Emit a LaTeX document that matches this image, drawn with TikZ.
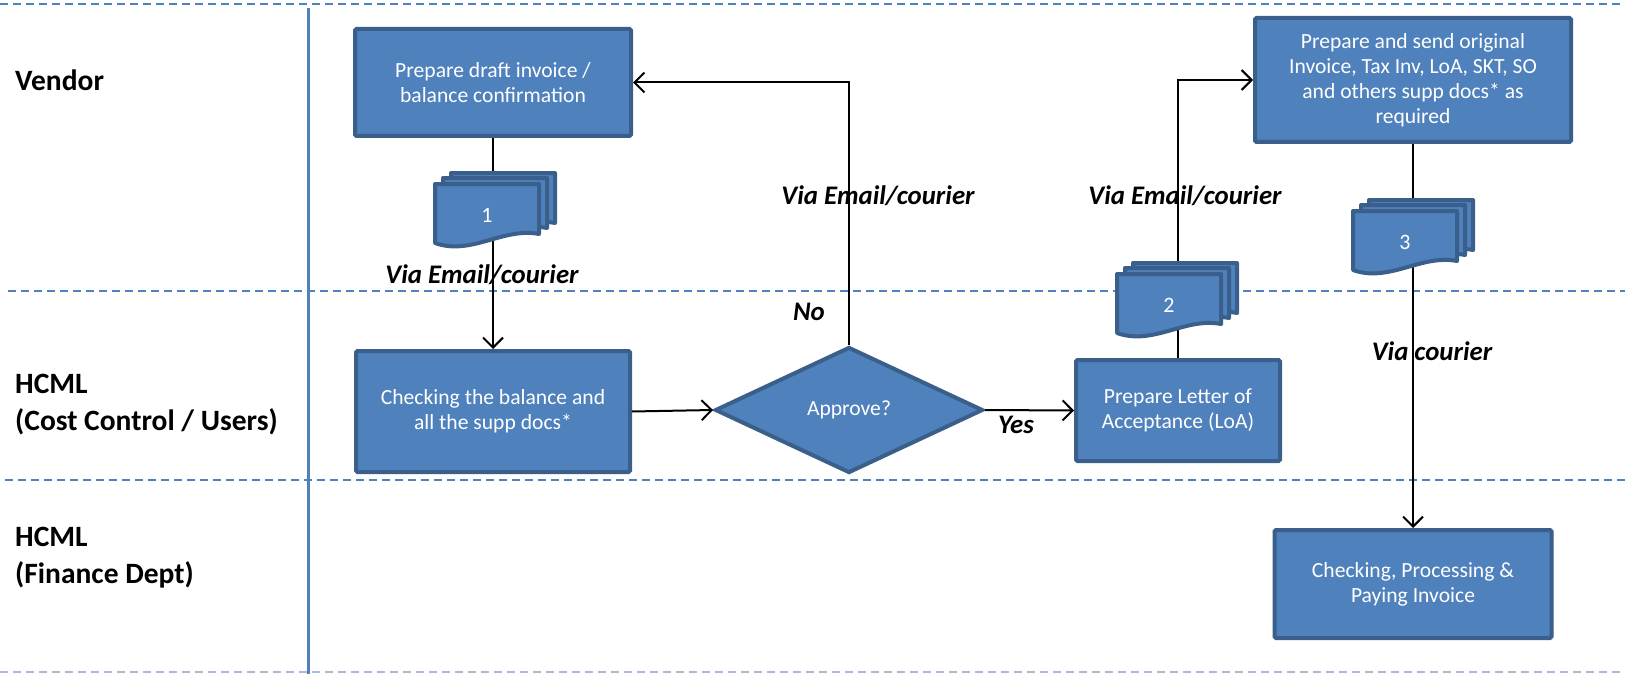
\documentclass[tikz,border=0pt]{standalone}
\usepackage{fontspec}
\setmainfont{Carlito}
\usetikzlibrary{arrows.meta,shapes.geometric,calc}
\definecolor{boxfill}{HTML}{4F81BD}
\definecolor{boxline}{HTML}{3A5F8B}
\definecolor{lanecol}{HTML}{4F81BD}
\definecolor{lanelight}{HTML}{A8BAD6}
\tikzset{
  procbox/.style={draw=boxline, fill=boxfill, line width=4pt, rounded corners=1.5pt,
    text=white, font=\fontsize{21.6}{25}\selectfont, align=center, inner sep=0pt},
  decision/.style={diamond, draw=boxline, fill=boxfill, line width=4pt, text=white,
    font=\fontsize{21.6}{25}\selectfont, inner sep=0pt, minimum width=268pt, minimum height=126pt},
  docsheet/.style={draw=boxline, fill=boxfill, line width=4pt, line join=round},
  doclabel/.style={text=white, font=\fontsize{22}{25}\selectfont, inner sep=0pt},
  flow/.style={draw=black, line width=2pt, -{Straight Barb[length=10pt,width=20pt,line width=2pt]}},
  via/.style={font=\fontsize{26.8}{30}\selectfont\bfseries\itshape, text=black, inner sep=0pt},
  lanelabel/.style={font=\fontsize{29.5}{37}\selectfont\bfseries, align=left, anchor=west, inner sep=0pt},
  laneline/.style={draw=lanecol, line width=1.5pt, dash pattern=on 8pt off 5pt},
}
\newcommand\DocStack[4]{%
  \foreach \dx/\dy in {16/-11, 8/-6, 0/0} {%
    \draw[docsheet] (#2+\dx,#3+\dy) -- (#2+\dx+104,#3+\dy) -- (#2+\dx+104,#3+\dy+50)
      .. controls (#2+\dx+68,#3+\dy+43) and (#2+\dx+36,#3+\dy+72) .. (#2+\dx,#3+\dy+59) -- cycle;
  }%
  \node[doclabel] (#1) at (#2+52,#3+31) {#4};
}
\begin{document}
\begin{tikzpicture}[x=1pt,y=-1pt]
\useasboundingbox (0,0) rectangle (1625,674);
% lanes
\draw[laneline] (0,4) -- (1625,4);
\draw[laneline] (8,291) -- (1625,291);
\draw[laneline] (5,480) -- (1625,480);
\draw[laneline, draw=lanelight] (0,672) -- (1625,672);
\draw[draw=lanecol, line width=3pt] (308,8) -- (308,674);
\node[lanelabel] (l1) at (15,80) {Vendor};
\node[lanelabel] (l2) at (15,404.5) {HCML\\(Cost Control / Users)};
\node[lanelabel] (l3) at (15,558) {HCML\\(Finance Dept)};
% boxes
\node[procbox, minimum width=276pt, minimum height=107pt] (b1) at (493,82.5)
  {Prepare draft invoice /\\balance confirmation};
\node[procbox, minimum width=274pt, minimum height=121pt] (b2) at (493,411.5)
  {Checking the balance and\\all the supp docs*};
\node[decision] (d) at (849,410) {Approve?};
\node[procbox, minimum width=204pt, minimum height=101pt] (b3) at (1178,410.5)
  {Prepare Letter of\\Acceptance (LoA)};
\node[procbox, minimum width=316pt, minimum height=124pt] (b4) at (1413,80)
  {Prepare and send original\\Invoice, Tax Inv, LoA, SKT, SO\\and others supp docs* as\\required};
\node[procbox, minimum width=277pt, minimum height=108pt] (b5) at (1413,584)
  {Checking, Processing \&\\Paying Invoice};
% connectors
\draw[flow] (b1.south) -- (b2.north);
\draw[flow] (b2.east) -- (d.west);
\draw[flow] (d.north) |- (b1.east);
\draw[flow] (d.east) -- (b3.west);
\draw[flow] (b3.north) |- (b4.west);
\draw[flow] (b4.south) -- (b5.north);
% documents
\DocStack{doc1}{435}{184}{1}
\DocStack{doc2}{1117}{274}{2}
\DocStack{doc3}{1353}{211}{3}
% labels
\node[via] (v1) at (482,275) {Via Email/courier};
\node[via] (v2) at (878,196) {Via Email/courier};
\node[via] (no) at (809,312) {No};
\node[via] (v3) at (1185,196) {Via Email/courier};
\node[via] (yes) at (1016,425) {Yes};
\node[via] (v4) at (1432,351) {Via courier};
\end{tikzpicture}
\end{document}
